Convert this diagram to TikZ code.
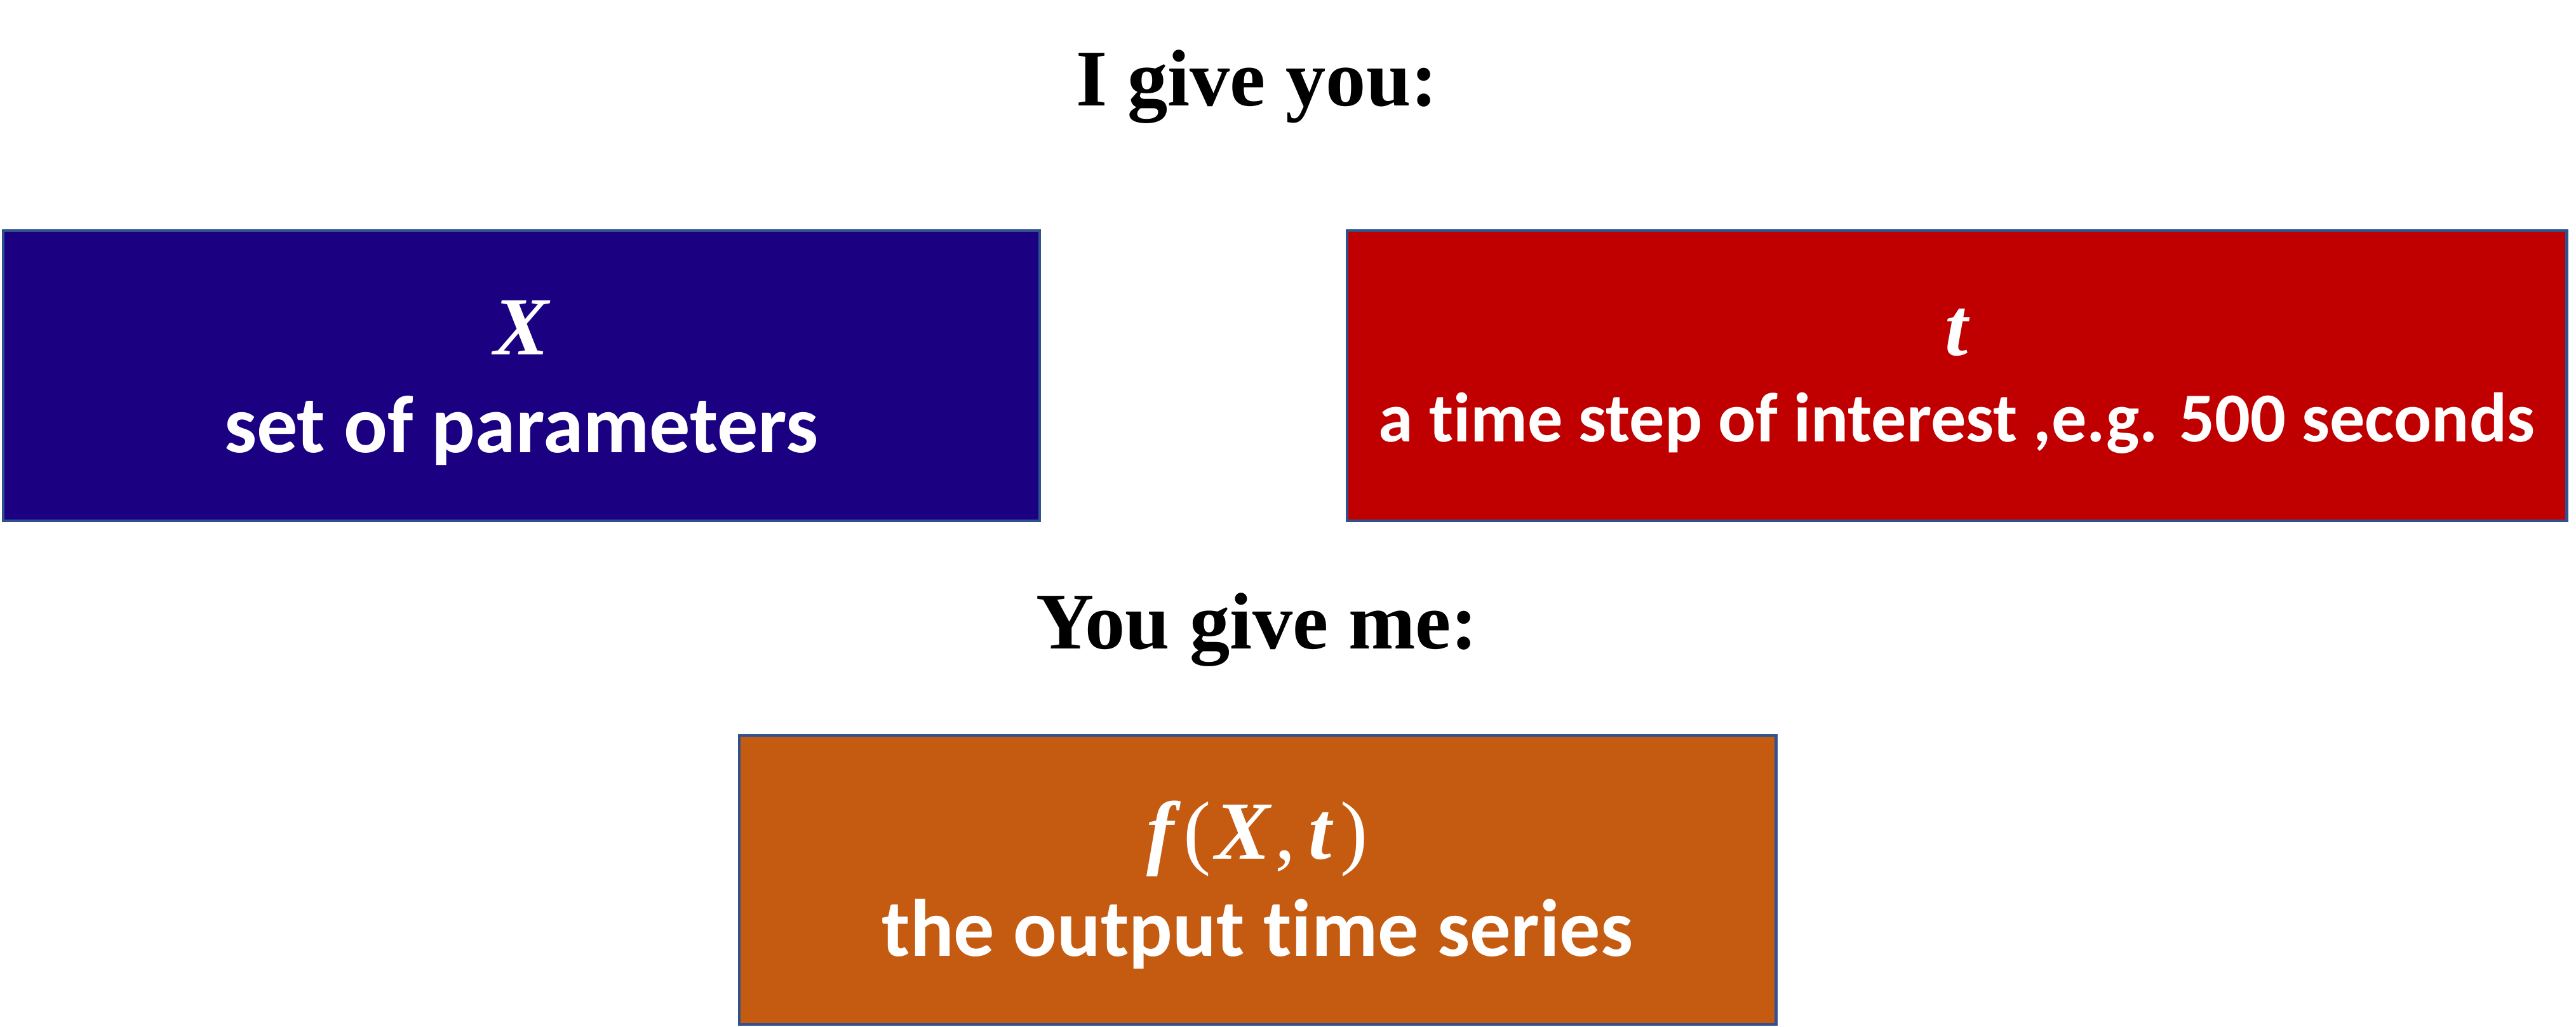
\documentclass[tikz,border=0pt]{standalone}
\usepackage{fontspec}
\setmainfont{Carlito}[Ligatures=NoCommon]
\newfontfamily\titrefont{Liberation Serif}
\newfontfamily\symbfont{Liberation Serif}
\usetikzlibrary{positioning}
\definecolor{bordure}{RGB}{47,82,143}
\definecolor{bleuX}{RGB}{27,0,130}
\definecolor{rougeT}{RGB}{192,0,0}
\definecolor{orangeF}{RGB}{197,90,17}
\newcommand{\var}[1]{{\bfseries\itshape #1}}
\tikzset{
  carte/.style={draw=bordure, line width=1.4pt, fill=#1, inner sep=0pt,
    minimum width=16.32cm, minimum height=4.57cm},
  carte/.default=bleuX,
  symbole/.style={anchor=base, text=white, font=\symbfont\fontsize{37}{40}\selectfont},
  legende/.style={anchor=base, text=white, font=\fontsize{#1}{40}\selectfont\bfseries},
  legende/.default=36.5,
  titre/.style={anchor=base, font=\titrefont\fontsize{36}{40}\selectfont\bfseries},
}

\begin{document}
\begin{tikzpicture}
    \useasboundingbox (0,0) rectangle (40.56,16.17);
    % Titres
    \node[titre] (donne)  at (19.79,14.50) {I give you:};
    \node[titre] (recois) at (19.79,5.95)  {You give me:};
    % Entrees
    \node[carte=bleuX] (param) at (8.21,10.255) {};
    \node[symbole] (paramX) at (8.21,10.58) {\var{X}};
    \node[legende] (paramT) at (8.21,9.04) {set of parameters};
    \node[carte=rougeT, minimum width=19.2cm] (temps) at (30.81,10.255) {};
    \node[symbole] (tempsX) at (30.81,10.57) {\var{t}};
    \node[legende=31.4] (tempsT) at (30.81,9.21) {a time step of interest ,e.g. 500 seconds};
    % Sortie
    \node[carte=orangeF, minimum height=4.55cm] (sortie) at (19.80,2.315) {};
    \node[symbole] (sortieX) at (19.80,2.64)
      {\var{f}\kern4pt(\kern2pt\var{X}\kern2pt,\kern6pt\var{t}\kern4pt)};
    \node[legende] (sortieT) at (19.80,1.11) {the output time series};
\end{tikzpicture}
\end{document}
